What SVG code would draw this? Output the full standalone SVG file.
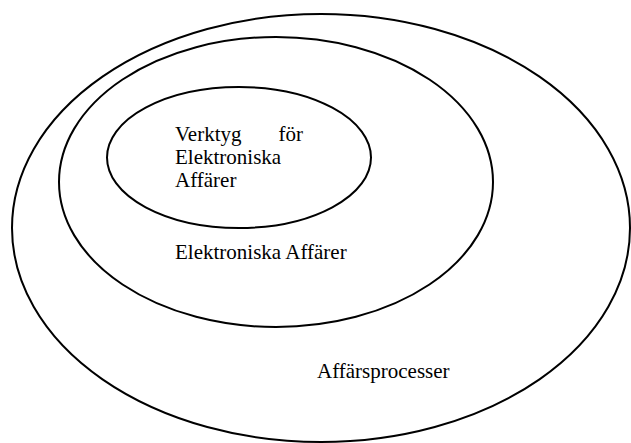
<svg xmlns="http://www.w3.org/2000/svg" width="631" height="443" viewBox="0 0 631 443">
  <style>
    .ring { fill: none; stroke: #000; stroke-width: 2; }
    .label { font-family: "Liberation Serif", "Times New Roman", serif; font-size: 21px; fill: #000; }
  </style>
  <rect width="631" height="443" fill="#fff"/>
  <!-- outermost domain -->
  <g id="affarsprocesser">
    <ellipse class="ring" cx="321" cy="228" rx="309" ry="214"/>
    <text class="label" x="317" y="378">Affärsprocesser</text>
  </g>
  <!-- middle domain -->
  <g id="elektroniska-affarer">
    <ellipse class="ring" cx="276" cy="182" rx="217" ry="145"/>
    <text class="label" x="175" y="259">Elektroniska Affärer</text>
  </g>
  <!-- innermost domain -->
  <g id="verktyg">
    <ellipse class="ring" cx="239" cy="157.5" rx="132" ry="70.5"/>
    <text class="label" x="175" y="141">Verktyg</text>
    <text class="label" x="303" y="141" text-anchor="end">för</text>
    <text class="label" x="175" y="164">Elektroniska</text>
    <text class="label" x="175" y="187">Affärer</text>
  </g>
</svg>
